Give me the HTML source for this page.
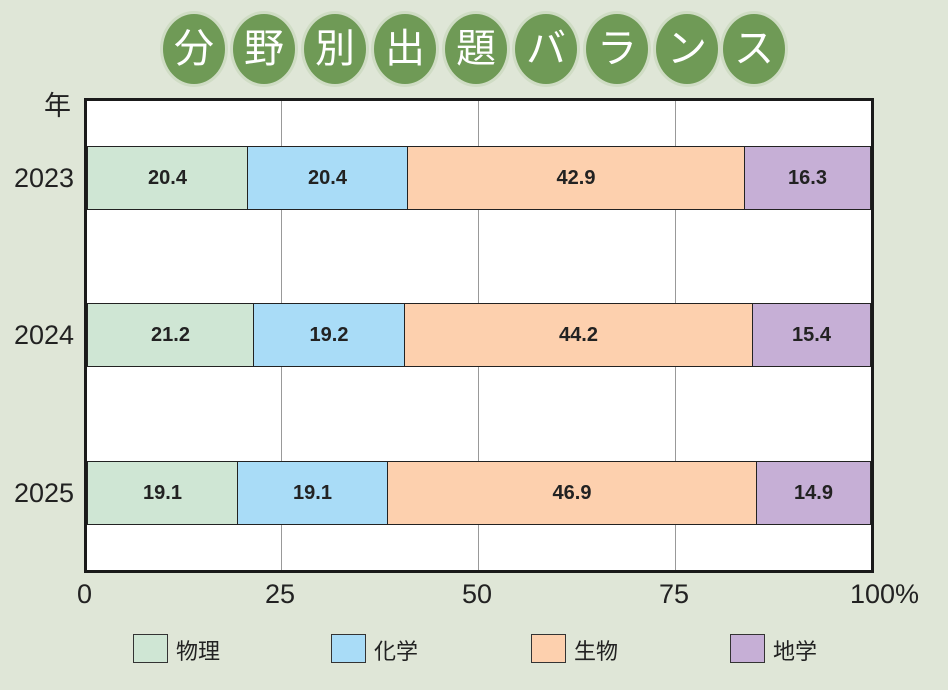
<!DOCTYPE html><html><head><meta charset="utf-8"><style>
body{margin:0;width:948px;height:690px;background:#dfe6d7;position:relative;overflow:hidden;font-family:"Liberation Sans","Noto Sans CJK JP",sans-serif}
.c{position:absolute;top:14px;width:62px;height:70px;border-radius:50%;background:#6f9a56;box-shadow:0 0 0 3px #cfdcc4;color:#fff;font-size:40px;font-weight:normal;text-align:center;line-height:70px}
.plot{position:absolute;left:84px;top:98px;width:784px;height:469px;border:3px solid #1a1a1a;background:#fff}
.g{position:absolute;top:0;bottom:0;width:1px;background:#999}
.bar{position:absolute;height:64px;border:1px solid #222;box-sizing:border-box;text-align:center;line-height:62px;font-weight:bold;font-size:20px;color:#222}
.y{position:absolute;left:14px;font-size:27px;color:#222}
.t{position:absolute;top:579px;font-size:27px;color:#222}
.lb{position:absolute;top:634px;width:35px;height:29px;border:1px solid #333;box-sizing:border-box}
.lt{position:absolute;top:634px;font-size:22px;color:#222}
</style></head><body>
<div class="c" style="left:163px">分</div><div class="c" style="left:233px">野</div><div class="c" style="left:304px">別</div><div class="c" style="left:374px">出</div><div class="c" style="left:445px">題</div><div class="c" style="left:515px">バ</div><div class="c" style="left:586px">ラ</div><div class="c" style="left:656px">ン</div><div class="c" style="left:723px">ス</div>
<div class="y" style="top:84px;left:44px">年</div>
<div class="y" style="top:163px">2023</div><div class="y" style="top:320px">2024</div><div class="y" style="top:478px">2025</div>
<div class="plot">
<div class="g" style="left:194px"></div><div class="g" style="left:391px"></div><div class="g" style="left:588px"></div>
<div class="bar" style="top:45px;left:0;width:161px;background:#cfe6d4">20.4</div>
<div class="bar" style="top:45px;left:160px;width:161px;background:#a9dcf7">20.4</div>
<div class="bar" style="top:45px;left:320px;width:338px;background:#fdd0ae">42.9</div>
<div class="bar" style="top:45px;left:657px;width:127px;background:#c6afd6">16.3</div>
<div class="bar" style="top:202px;left:0;width:167px;background:#cfe6d4">21.2</div>
<div class="bar" style="top:202px;left:166px;width:152px;background:#a9dcf7">19.2</div>
<div class="bar" style="top:202px;left:317px;width:349px;background:#fdd0ae">44.2</div>
<div class="bar" style="top:202px;left:665px;width:119px;background:#c6afd6">15.4</div>
<div class="bar" style="top:360px;left:0;width:151px;background:#cfe6d4">19.1</div>
<div class="bar" style="top:360px;left:150px;width:151px;background:#a9dcf7">19.1</div>
<div class="bar" style="top:360px;left:300px;width:370px;background:#fdd0ae">46.9</div>
<div class="bar" style="top:360px;left:669px;width:115px;background:#c6afd6">14.9</div>
</div>
<div class="t" style="left:77px">0</div><div class="t" style="left:265px">25</div><div class="t" style="left:462px">50</div><div class="t" style="left:659px">75</div><div class="t" style="left:850px">100%</div>
<div class="lb" style="left:133px;background:#cfe6d4"></div><div class="lt" style="left:176px">物理</div>
<div class="lb" style="left:331px;background:#a9dcf7"></div><div class="lt" style="left:374px">化学</div>
<div class="lb" style="left:531px;background:#fdd0ae"></div><div class="lt" style="left:574px">生物</div>
<div class="lb" style="left:730px;background:#c6afd6"></div><div class="lt" style="left:773px">地学</div>
</body></html>
